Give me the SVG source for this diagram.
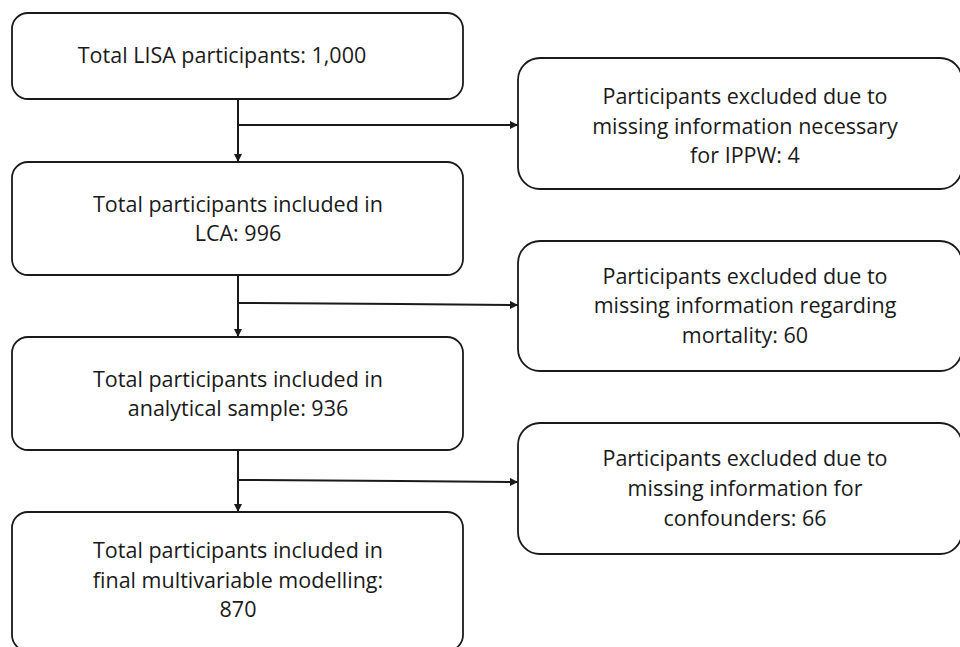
<svg xmlns="http://www.w3.org/2000/svg" width="960" height="647" viewBox="0 0 960 647">
<defs>
<marker id="arr" viewBox="0 0 10 10" refX="10" refY="5" markerWidth="8" markerHeight="8" markerUnits="userSpaceOnUse" orient="auto">
<path d="M0,0 L10,5 L0,10 z" fill="#1a1a1a"/>
</marker>
<style>
.box{fill:#fff;stroke:#1a1a1a;stroke-width:1.8}
.t{font-family:"Open Sans","Liberation Sans",sans-serif;font-size:21.5px;fill:#1a1a1a;text-anchor:middle}
.c{fill:none;stroke:#1a1a1a;stroke-width:2}
</style>
</defs>
<rect width="960" height="647" fill="#fff"/>
<g id="connectors">
<line class="c" x1="238" y1="99" x2="238" y2="162" marker-end="url(#arr)"/>
<line class="c" x1="238" y1="125" x2="518" y2="125" marker-end="url(#arr)"/>
<line class="c" x1="238" y1="275" x2="238" y2="337" marker-end="url(#arr)"/>
<polyline class="c" points="238,303 400,304 518,305" marker-end="url(#arr)"/>
<line class="c" x1="238" y1="450" x2="238" y2="512" marker-end="url(#arr)"/>
<polyline class="c" points="238,480 400,481 518,482" marker-end="url(#arr)"/>
</g>
<g id="n1">
<rect class="box" x="12" y="13" width="451" height="86" rx="16"/>
<text class="t" x="222" y="63">Total LISA participants: 1,000</text>
</g>
<g id="n2">
<rect class="box" x="12" y="162" width="451" height="113" rx="16"/>
<text class="t" x="238" y="212">Total participants included in</text>
<text class="t" x="238" y="241">LCA: 996</text>
</g>
<g id="n3">
<rect class="box" x="12" y="337" width="451" height="113" rx="16"/>
<text class="t" x="238" y="387">Total participants included in</text>
<text class="t" x="238" y="416">analytical sample: 936</text>
</g>
<g id="n4">
<rect class="box" x="12" y="512" width="451" height="139" rx="16"/>
<text class="t" x="238" y="558">Total participants included in</text>
<text class="t" x="238" y="588">final multivariable modelling:</text>
<text class="t" x="238" y="617">870</text>
</g>
<g id="r1">
<rect class="box" x="518" y="58" width="444" height="131" rx="22"/>
<text class="t" x="745" y="104">Participants excluded due to</text>
<text class="t" x="745" y="134">missing information necessary</text>
<text class="t" x="745" y="163">for IPPW: 4</text>
</g>
<g id="r2">
<rect class="box" x="518" y="241" width="444" height="130" rx="22"/>
<text class="t" x="745" y="284">Participants excluded due to</text>
<text class="t" x="745" y="313">missing information regarding</text>
<text class="t" x="745" y="343">mortality: 60</text>
</g>
<g id="r3">
<rect class="box" x="518" y="423" width="444" height="131" rx="22"/>
<text class="t" x="745" y="466">Participants excluded due to</text>
<text class="t" x="745" y="496">missing information for</text>
<text class="t" x="745" y="526">confounders: 66</text>
</g>
</svg>
